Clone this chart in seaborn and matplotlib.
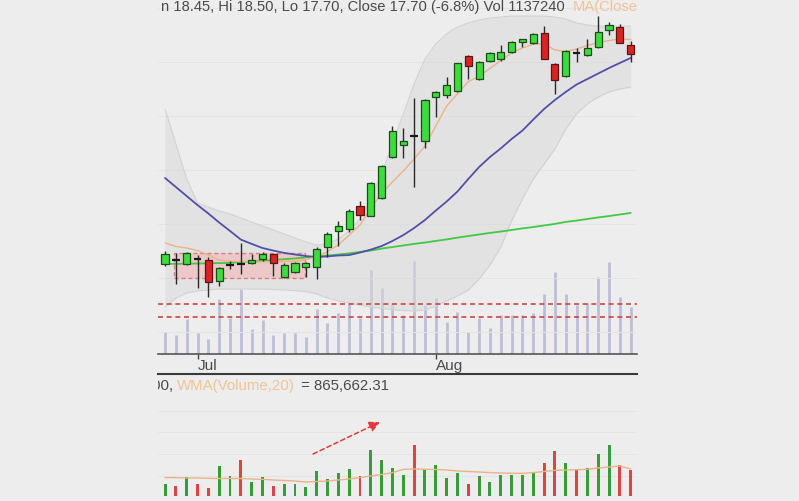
import numpy as np
import pandas as pd
import matplotlib
matplotlib.use("Agg")
import matplotlib.pyplot as plt
from matplotlib.patches import Rectangle
import seaborn as sns

# ---------------- data ----------------
opens  = [6.99, 7.19, 6.99, 7.24, 7.19, 6.12, 6.91, 6.99, 7.04, 7.24, 7.50, 6.32, 6.58, 6.83,
          6.83, 7.85, 8.67, 8.77, 9.94, 9.43, 10.35, 12.44, 13.05, 13.51, 13.26, 15.50, 15.60,
          15.81, 17.59, 16.42, 17.34, 17.44, 17.80, 18.31, 18.26, 18.77, 17.19, 16.57, 17.75,
          17.64, 18.05, 18.92, 19.07, 18.15]
highs  = [7.65, 7.54, 7.60, 7.44, 7.34, 6.83, 7.14, 8.06, 7.50, 7.60, 7.50, 7.04, 7.09, 7.09,
          7.85, 8.62, 9.18, 9.79, 10.20, 11.17, 12.03, 14.02, 13.92, 15.45, 15.40, 15.81, 16.52,
          17.24, 17.64, 17.34, 17.80, 18.15, 18.36, 18.46, 18.77, 19.12, 17.24, 17.90, 18.00,
          18.46, 19.63, 19.33, 19.23, 18.36]
lows   = [6.88, 5.97, 6.93, 5.76, 5.30, 5.86, 6.73, 6.48, 6.99, 7.14, 6.37, 6.27, 6.53, 6.32,
          6.22, 7.34, 7.90, 8.62, 9.23, 9.43, 10.30, 12.39, 12.39, 10.91, 12.90, 14.48, 15.45,
          15.76, 16.42, 16.37, 17.29, 17.34, 17.75, 18.05, 18.21, 17.44, 15.66, 16.52, 17.29,
          17.59, 18.00, 18.66, 18.26, 17.29]
closes = [7.50, 7.16, 7.55, 7.21, 6.07, 6.78, 6.93, 6.96, 7.19, 7.50, 7.04, 6.93, 7.04, 7.04,
          7.75, 8.52, 8.92, 9.69, 9.48, 11.12, 11.98, 13.77, 13.26, 13.49, 15.35, 15.76, 16.11,
          17.24, 17.08, 17.29, 17.75, 17.80, 18.31, 18.46, 18.72, 17.44, 16.37, 17.85, 17.72,
          18.00, 18.82, 19.17, 18.26, 17.70]
volume_k = [387, 334, 616, 370, 264, 968, 634, 1144, 440, 598, 334, 370, 370, 299, 792, 546,
            722, 880, 634, 1478, 1162, 898, 686, 1637, 862, 986, 563, 739, 387, 634, 458, 686,
            686, 686, 722, 1056, 1443, 1056, 862, 898, 1355, 1619, 1003, 827]
ma_fast = [8.06, 7.88, 7.80, 7.67, 7.44, 7.19, 7.13, 7.11, 7.10, 7.09, 7.10, 7.12, 7.13, 7.21,
           7.35, 7.62, 7.95, 8.46, 8.97, 9.84, 10.58, 11.17, 11.73, 12.34, 13.00, 14.02, 15.04,
           15.66, 16.29, 16.55, 16.96, 17.36, 17.75, 18.00, 18.21, 18.21, 17.90, 17.82, 17.95,
           18.13, 18.28, 18.38, 18.46, 18.43]
ma_20 = [11.37, 10.91, 10.45, 9.99, 9.56, 9.10, 8.67, 8.23, 8.01, 7.80, 7.67, 7.55, 7.47, 7.39,
         7.34, 7.37, 7.42, 7.44, 7.57, 7.72, 7.90, 8.16, 8.46, 8.82, 9.23, 9.71, 10.17, 10.68,
         11.32, 11.93, 12.44, 12.88, 13.36, 13.79, 14.35, 14.89, 15.35, 15.76, 16.14, 16.42,
         16.70, 16.98, 17.24, 17.49]
ma_50 = [6.99, 6.99, 7.00, 7.01, 7.02, 7.03, 7.04, 7.09, 7.11, 7.15, 7.19, 7.23, 7.27, 7.32,
         7.37, 7.42, 7.47, 7.53, 7.60, 7.67, 7.77, 7.85, 7.93, 8.01, 8.08, 8.16, 8.24, 8.33,
         8.41, 8.49, 8.57, 8.64, 8.72, 8.80, 8.87, 8.95, 9.03, 9.13, 9.20, 9.28, 9.36, 9.43,
         9.51, 9.59]
bb_upper = [14.89, 13.11, 11.32, 10.10, 9.89, 9.69, 9.54, 9.33, 9.13, 8.92, 8.72, 8.52, 8.31,
            8.11, 7.95, 8.01, 8.26, 8.67, 9.28, 10.30, 11.58, 13.11, 14.64, 16.17, 17.44, 18.21,
            18.72, 19.07, 19.28, 19.43, 19.53, 19.58, 19.63, 19.63, 19.63, 19.63, 19.58, 19.48,
            19.28, 19.17, 19.12, 19.12, 19.12, 19.12]
bb_lower = [4.79, 5.25, 5.51, 5.61, 5.66, 5.71, 5.71, 5.71, 5.71, 5.71, 5.68, 5.66, 5.63, 5.58,
            5.46, 5.25, 5.10, 4.99, 4.89, 4.79, 4.72, 4.66, 4.61, 4.59, 4.64, 4.84, 5.10, 5.35,
            5.66, 6.22, 6.93, 7.85, 9.18, 10.30, 11.32, 12.08, 12.85, 13.87, 14.64, 15.15, 15.50,
            15.76, 15.91, 16.01]
wma_vol_k = [589, 589, 576, 576, 566, 560, 560, 560, 544, 534, 512, 496, 480, 448, 464, 480,
             512, 544, 589, 640, 688, 749, 854, 864, 854, 848, 832, 800, 784, 768, 749, 736,
             726, 726, 749, 784, 822, 832, 842, 854, 896, 928, 960, 866]
month_ticks = [3, 25]
month_labels = ["Jul", "Aug"]
support_levels = [4.92, 4.26]
range_box_x = (0.83, 12.93)
range_box_y = (6.29, 7.57)
arrow_start = (13.67, 1344)
arrow_end = (19.85, 2368)
price_grid = [20.04, 17.29, 14.53, 11.78, 9.03, 6.27, 3.52]
vol_grid = [2720, 2048, 1344, 640]
header_text = "n 18.45, Hi 18.50, Lo 17.70, Close 17.70 (-6.8%) Vol 1137240"
header_ma = "MA(Close,5)"
vol_prefix = "00, "
vol_wma_name = "WMA(Volume,20)"
vol_wma_value = " = 865,662.31"

# ---------------- style ----------------
sns.set_theme(style="white")
plt.rcParams["font.family"] = ["Liberation Sans", "DejaVu Sans"]
BG = "#ededed"
GREEN = "#3ddc3d"
GREEN_EDGE = "#1d4a1d"
RED = "#d92424"
RED_EDGE = "#5a1414"
VOL_GREEN = "#389c38"
VOL_RED = "#d94444"
TAN = "#efc496"
TXT = "#4a4a4a"

W, H = 799, 502
fig = plt.figure(figsize=(W / 100, H / 100), dpi=100, facecolor=BG)
L_px, R_px = 158, 637
main_top, main_bot = 0, 355
vol_top, vol_bot = 375, 497

def box(top, bot):
    return [L_px / W, 1 - bot / H, (R_px - L_px) / W, (bot - top) / H]

xlim = (-0.65, 43.58)
idx = np.arange(len(opens))
df = pd.DataFrame({"i": idx, "o": opens, "h": highs, "l": lows, "c": closes,
                   "v": volume_k, "maf": ma_fast, "ma20": ma_20, "ma50": ma_50,
                   "up": bb_upper, "lo": bb_lower, "wma": wma_vol_k})
df["down"] = df["c"] < df["o"]

# ---------------- main price panel ----------------
ax = fig.add_axes(box(main_top, main_bot))
axo = ax.twinx()
axo.set_zorder(ax.get_zorder() - 1)
ax.patch.set_visible(False)
axo.patch.set_visible(False)
for a in (ax, axo):
    a.set_xlim(*xlim)
ax.set_ylim(2.395, 20.5)
axo.set_ylim(0, 6248)

# volume overlay bars behind price
axo.vlines(df["i"], 0, df["v"], color="#bdbdd8", lw=2.0)
axo.set_yticks([])
for s in axo.spines.values():
    s.set_visible(False)

for g in price_grid:
    ax.axhline(g, color="#e4e4e4", lw=0.7, zorder=0)

ax.fill_between(df["i"], df["lo"], df["up"], color="#d9d9d9", alpha=0.55, lw=0, zorder=1)
ax.plot(df["i"], df["up"], color="#d2d2d2", lw=0.8, zorder=1)
ax.plot(df["i"], df["lo"], color="#d2d2d2", lw=0.8, zorder=1)

ax.add_patch(Rectangle((range_box_x[0], range_box_y[0]), range_box_x[1] - range_box_x[0],
                       range_box_y[1] - range_box_y[0], facecolor="#f3b8b8", alpha=0.6,
                       edgecolor="#d04848", ls=(0, (3, 2)), lw=1.0, zorder=2))
for lvl in support_levels:
    ax.axhline(lvl, color="#cc4444", ls=(0, (3, 2.2)), lw=1.2, zorder=2)

sns.lineplot(data=df, x="i", y="ma50", ax=ax, color="#44c844", lw=1.3, zorder=3)
sns.lineplot(data=df, x="i", y="ma20", ax=ax, color="#5050a8", lw=1.3, zorder=3)
sns.lineplot(data=df, x="i", y="maf", ax=ax, color="#e8b488", lw=1.0, zorder=3)

# candles
ax.vlines(df["i"], df["l"], df["h"], color="#2a2a2a", lw=1.0, zorder=4)
doji = (df["c"] - df["o"]).abs() < 0.04
body = df[~doji]
ax.bar(body["i"], (body["c"] - body["o"]).abs(), bottom=np.minimum(body["o"], body["c"]),
       width=0.66, color=np.where(body["down"], RED, GREEN),
       edgecolor=np.where(body["down"], RED_EDGE, GREEN_EDGE), lw=0.9, zorder=5)
dj = df[doji]
ax.hlines((dj["o"] + dj["c"]) / 2, dj["i"] - 0.36, dj["i"] + 0.36, color="#1a1a1a", lw=1.6, zorder=5)

ax.set_yticks([])
ax.set_xticks(month_ticks)
ax.set_xticklabels(month_labels, ha="left", fontsize=11, color=TXT)
ax.tick_params(axis="x", length=3.5, width=1, color="#444444", pad=-0.5, direction="out", bottom=True)
ax.set_xlabel("")
ax.set_ylabel("")
for k, s in ax.spines.items():
    s.set_visible(k == "bottom")
ax.spines["bottom"].set_color("#555555")
ax.spines["bottom"].set_linewidth(1.2)

ax.text(161 / W, 1 - 11 / H, header_text, transform=fig.transFigure, fontsize=10.6,
        color=TXT, ha="left", va="baseline", clip_on=True)
ax.text(573 / W, 1 - 11 / H, header_ma, transform=fig.transFigure, fontsize=10.6,
        color=TAN, ha="left", va="baseline", clip_on=True)

# ---------------- volume panel ----------------
av = fig.add_axes(box(vol_top, vol_bot))
av.set_facecolor("none")
av.set_xlim(*xlim)
av.set_ylim(0, 3904)
for g in vol_grid:
    av.axhline(g, color="#e4e4e4", lw=0.7, zorder=0)
av.bar(df["i"], df["v"], width=0.27, color=np.where(df["down"], VOL_RED, VOL_GREEN), lw=0, zorder=2)
sns.lineplot(data=df, x="i", y="wma", ax=av, color="#e8b488", lw=1.0, zorder=3)
av.annotate("", xy=arrow_end, xytext=arrow_start,
            arrowprops=dict(arrowstyle="-|>", color="#e03a3a", lw=1.1, ls=(0, (3, 2)),
                            mutation_scale=16, shrinkA=0, shrinkB=0), zorder=4)
av.set_xticks([])
av.set_yticks([])
av.set_xlabel("")
av.set_ylabel("")
for k, s in av.spines.items():
    s.set_visible(k == "top")
av.spines["top"].set_color("#3a3a3a")
av.spines["top"].set_linewidth(1.5)

av.text(152 / W, 1 - 390.5 / H, vol_prefix, transform=fig.transFigure, fontsize=10.8,
        color=TXT, ha="left", va="baseline", clip_on=True)
av.text(177 / W, 1 - 390.5 / H, vol_wma_name, transform=fig.transFigure, fontsize=10.8,
        color=TAN, ha="left", va="baseline", clip_on=True)
av.text(297 / W, 1 - 390.5 / H, vol_wma_value, transform=fig.transFigure, fontsize=10.8,
        color=TXT, ha="left", va="baseline", clip_on=True)

fig.savefig("out.png", dpi=100, facecolor=BG)
